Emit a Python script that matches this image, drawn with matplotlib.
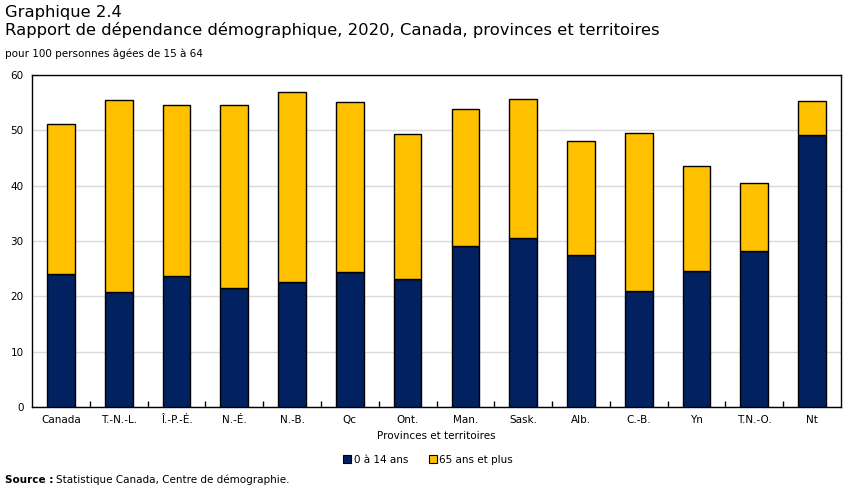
import matplotlib
matplotlib.use("Agg")
import matplotlib.pyplot as plt
from matplotlib.patches import Patch

categories = ["Canada", "T.-N.-L.", "Î.-P.-É.", "N.-É.", "N.-B.", "Qc", "Ont.",
              "Man.", "Sask.", "Alb.", "C.-B.", "Yn", "T.N.-O.", "Nt"]
jeunes = [24.0, 20.8, 23.7, 21.5, 22.6, 24.4, 23.1, 29.1, 30.5, 27.5, 21.0, 24.5, 28.2, 49.2]
aines = [27.1, 34.7, 30.9, 33.1, 34.3, 30.7, 26.2, 24.8, 25.2, 20.6, 28.5, 19.1, 12.3, 6.1]
yticks = [0, 10, 20, 30, 40, 50, 60]

navy = "#022160"
gold = "#FFC000"

plt.rcParams['font.family'] = ['DejaVu Sans']
W, H = 851, 492
fig = plt.figure(figsize=(W / 100, H / 100), dpi=100)
ax = fig.add_axes([32 / W, 1 - 407 / H, (841 - 32) / W, (407 - 75) / H])

x = list(range(len(categories)))
bw = 0.48
ax.bar(x, jeunes, width=bw, color=navy, edgecolor="black", linewidth=1.0, zorder=3, label="0 à 14 ans")
ax.bar(x, aines, bottom=jeunes, width=bw, color=gold, edgecolor="black", linewidth=1.0, zorder=3,
       label="65 ans et plus")

ax.set_xlim(-0.5, len(categories) - 0.5)
ax.set_ylim(0, 60)
ax.set_yticks(yticks)
ax.set_yticklabels([str(v) for v in yticks], fontsize=7.5)
ax.tick_params(axis="y", length=0, pad=6)
ax.grid(axis="y", color="#d9d9d9", linewidth=1, zorder=0)
ax.set_axisbelow(True)

ax.set_xticks([i + 0.5 for i in x[:-1]], minor=False)
ax.set_xticklabels([])
ax.tick_params(axis="x", which="major", direction="in", length=4, width=1)
ax.set_xticks(x, minor=True)
ax.set_xticklabels(categories, minor=True, fontsize=7.5)
ax.tick_params(axis="x", which="minor", length=0, pad=6)

for s in ax.spines.values():
    s.set_linewidth(1.0)
    s.set_color("black")

ax.set_xlabel("Provinces et territoires", fontsize=7.5, labelpad=4)

fig.text(5 / W, 1 - 12 / H, "Graphique 2.4", fontsize=11.8, va="center", ha="left")
fig.text(5 / W, 1 - 30 / H, "Rapport de dépendance démographique, 2020, Canada, provinces et territoires",
         fontsize=11.8, va="center", ha="left")
fig.text(5 / W, 1 - 54 / H, "pour 100 personnes âgées de 15 à 64", fontsize=7.5, va="center", ha="left")

handles = [Patch(facecolor=navy, edgecolor="black", linewidth=0.8),
           Patch(facecolor=gold, edgecolor="black", linewidth=0.8)]
fig.legend(handles, ["0 à 14 ans", "65 ans et plus"], loc="center", bbox_to_anchor=(428 / W, 1 - 460 / H),
           ncol=2, frameon=False, fontsize=7.5, handlelength=0.8, handleheight=0.8, handletextpad=0.2,
           columnspacing=2.0)

t1 = fig.text(5 / W, 1 - 480 / H, "Source :", fontsize=7.5, fontweight="bold", va="center", ha="left")
r = fig.canvas.get_renderer()
bb = t1.get_window_extent(renderer=r)
fig.text((bb.x1 + 3) / W, 1 - 480 / H, "Statistique Canada, Centre de démographie.", fontsize=7.5,
         va="center", ha="left")
fig.savefig("out.png", dpi=100)
